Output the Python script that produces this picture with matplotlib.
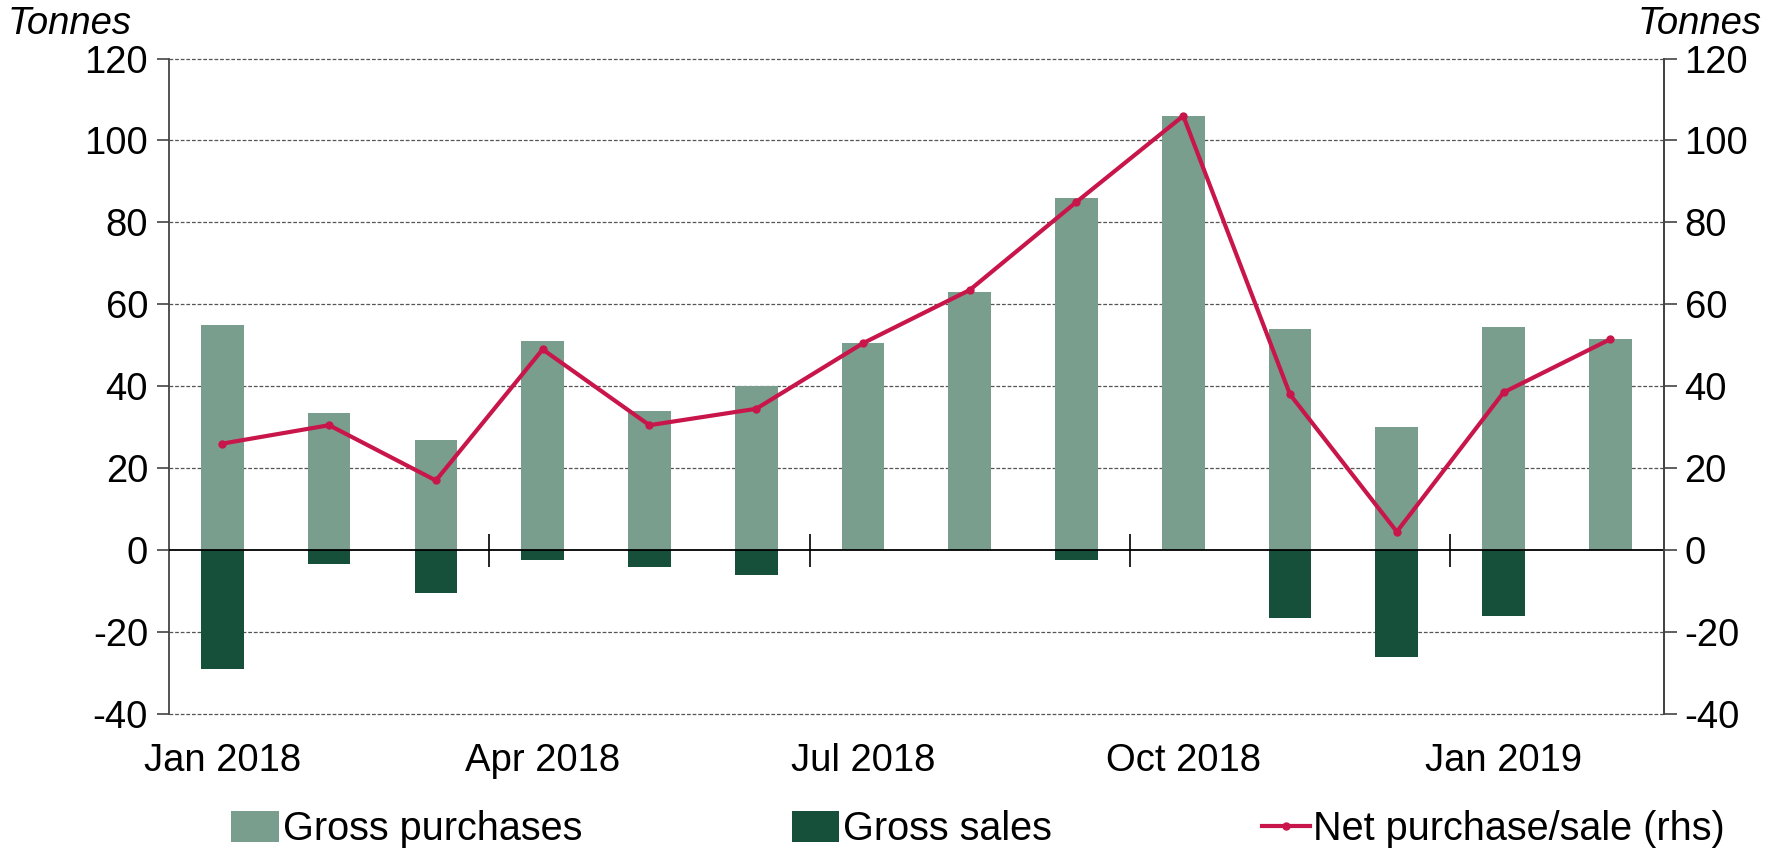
import matplotlib.pyplot as plt
import numpy as np

plt.rcParams['font.family'] = ['Liberation Sans', 'DejaVu Sans']
plt.rcParams['axes.unicode_minus'] = False

months = ["Jan 2018", "Feb 2018", "Mar 2018", "Apr 2018", "May 2018", "Jun 2018",
          "Jul 2018", "Aug 2018", "Sep 2018", "Oct 2018", "Nov 2018", "Dec 2018",
          "Jan 2019", "Feb 2019"]
gross_purchases = [55, 33.5, 27, 51, 34, 40, 50.5, 63, 86, 106, 54, 30, 54.5, 51.5]
gross_sales = [-29, -3.5, -10.5, -2.5, -4, -6, 0, 0, -2.5, 0, -16.5, -26, -16, 0]
net = [26, 30.5, 17, 49, 30.5, 34.5, 50.5, 63.5, 85, 106, 38, 4.5, 38.5, 51.5]
tick_labels = ["Jan 2018", "Apr 2018", "Jul 2018", "Oct 2018", "Jan 2019"]
tick_idx = [0, 3, 6, 9, 12]
quarter_breaks = [2.5, 5.5, 8.5, 11.5]
yticks = list(range(-40, 121, 20))

c_purch = '#7a9e8d'
c_sales = '#16503b'
c_net = '#c8164b'
fs = 27.5
fs_leg = 28.5

fig = plt.figure(figsize=(17.69, 8.48), dpi=100)
ax = fig.add_axes([0.0955, 0.158, 0.845, 0.773])
x = np.arange(len(months))

ax.bar(x, gross_purchases, width=0.4, color=c_purch, zorder=2, label='Gross purchases')
ax.bar(x, gross_sales, width=0.4, color=c_sales, zorder=2, label='Gross sales')

ax.set_xlim(-0.5, len(months) - 0.5)
ax.set_ylim(-40, 120)
ax.set_yticks(yticks)
for y in yticks:
    if y != 0:
        ax.axhline(y, color='#555555', lw=0.9, ls=(0, (3, 1.5)), zorder=1, clip_on=False)
ax.axhline(0, color='black', lw=1.3, zorder=3)
ax.vlines(quarter_breaks, -4, 4, color='black', lw=1.2, zorder=3)

ax.set_xticks(tick_idx)
ax.set_xticklabels(tick_labels)
ax.tick_params(axis='x', length=0, pad=21, labelsize=fs)
ax.tick_params(axis='y', length=9, width=1.2, color='#444444', labelsize=fs, pad=6)
for s in ['top', 'bottom']:
    ax.spines[s].set_visible(False)
for s in ['left', 'right']:
    ax.spines[s].set_color('#444444')
    ax.spines[s].set_linewidth(1.3)

ax2 = ax.twinx()
ax2.set_ylim(-40, 120)
ax2.set_yticks(yticks)
ax2.tick_params(axis='y', length=9, width=1.2, color='#444444', labelsize=fs, pad=6)
for s in ['top', 'bottom', 'left']:
    ax2.spines[s].set_visible(False)
ax2.spines['right'].set_color('#444444')
ax2.spines['right'].set_linewidth(1.3)
ax2.plot(x, net, color=c_net, lw=3, marker='o', markersize=5, zorder=4,
         label='Net purchase/sale (rhs)')

fig.text(0.004, 0.972, 'Tonnes', fontsize=fs, style='italic', ha='left', va='center')
fig.text(0.996, 0.972, 'Tonnes', fontsize=fs, style='italic', ha='right', va='center')

h1, l1 = ax.get_legend_handles_labels()
h2, l2 = ax2.get_legend_handles_labels()
fig.legend(h1 + h2, l1 + l2, loc='center', bbox_to_anchor=(0.553, 0.022), ncol=3,
           frameon=False, fontsize=fs_leg, handlelength=1.2, handleheight=0.8,
           handletextpad=0.1, columnspacing=5.3, borderaxespad=0)

fig.savefig('out.png', dpi=100)
